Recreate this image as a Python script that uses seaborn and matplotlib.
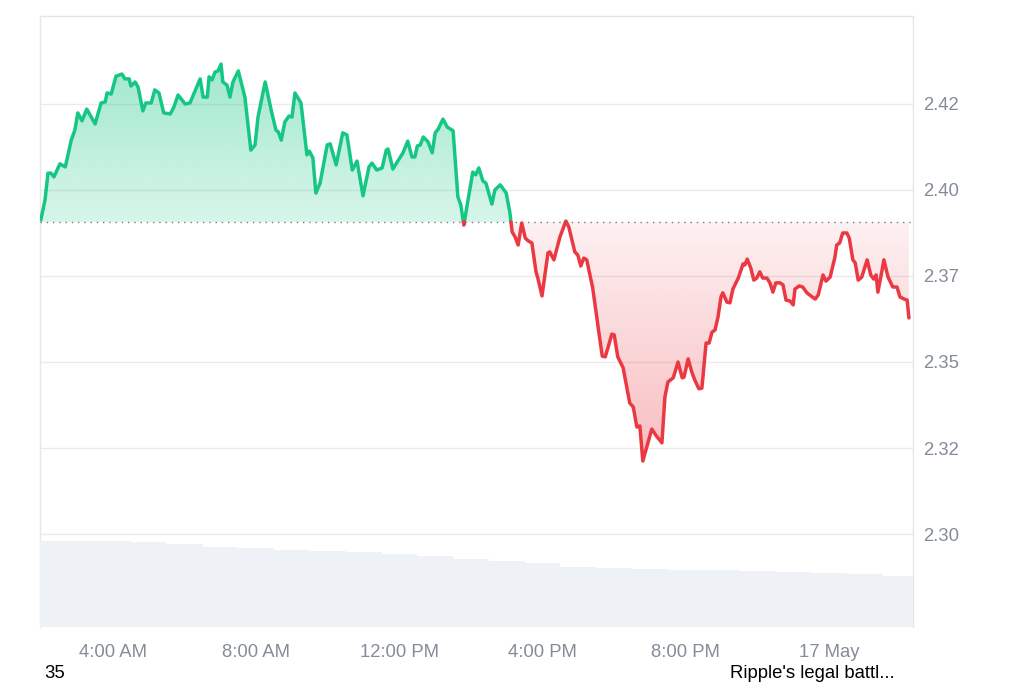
import numpy as np
import pandas as pd
import matplotlib
matplotlib.use("Agg")
import matplotlib.pyplot as plt
import matplotlib.dates as mdates
from matplotlib.path import Path
from matplotlib.colors import to_rgb
import seaborn as sns

# ---------------------------------------------------------------------------
# Data
# ---------------------------------------------------------------------------
TIMES = [
    "01:59", "02:06", "02:11", "02:16", "02:21", "02:31", "02:40", "02:50", "02:56", "03:01",
    "03:08", "03:16", "03:30", "03:40", "03:47", "03:50", "03:57", "04:05", "04:15", "04:20",
    "04:27", "04:30", "04:37", "04:42", "04:50", "04:55", "05:04", "05:10", "05:17", "05:25",
    "05:36", "05:42", "05:49", "06:01", "06:09", "06:26", "06:31", "06:38", "06:41", "06:46",
    "06:51", "06:56", "07:01", "07:04", "07:11", "07:16", "07:21", "07:30", "07:41", "07:51",
    "07:58", "08:03", "08:15", "08:25", "08:33", "08:37", "08:42", "08:48", "08:55", "09:00",
    "09:05", "09:15", "09:25", "09:29", "09:35", "09:40", "09:47", "09:59", "10:04", "10:14",
    "10:25", "10:32", "10:41", "10:49", "10:59", "11:09", "11:14", "11:22", "11:31", "11:38",
    "11:41", "11:49", "12:06", "12:14", "12:21", "12:26", "12:30", "12:35", "12:40", "12:48",
    "12:55", "13:00", "13:05", "13:13", "13:20", "13:23", "13:30", "13:38", "13:43", "13:48",
    "13:55", "14:03", "14:08", "14:13", "14:20", "14:25", "14:35", "14:40", "14:49", "14:59",
    "15:05", "15:09", "15:14", "15:19", "15:25", "15:31", "15:36", "15:42", "15:49", "15:52",
    "15:59", "16:09", "16:12", "16:19", "16:29", "16:39", "16:44", "16:54", "16:59", "17:04",
    "17:09", "17:14", "17:24", "17:31", "17:33", "17:40", "17:45", "17:50", "17:56", "18:00",
    "18:06", "18:15", "18:26", "18:32", "18:38", "18:43", "18:48", "19:03", "19:12", "19:20",
    "19:25", "19:30", "19:39", "19:47", "19:54", "19:57", "20:04", "20:10", "20:15", "20:22",
    "20:27", "20:34", "20:39", "20:44", "20:49", "20:54", "20:59", "21:02", "21:09", "21:14",
    "21:19", "21:28", "21:36", "21:39", "21:43", "21:49", "21:54", "21:59", "22:04", "22:09",
    "22:16", "22:21", "22:26", "22:31", "22:38", "22:43", "22:48", "22:55", "23:00", "23:03",
    "23:10", "23:16", "23:23", "23:32", "23:37", "23:42", "23:50", "23:55", "00:02", "00:10",
    "00:13", "00:18", "00:23", "00:30", "00:34", "00:40", "00:44", "00:49", "00:55", "01:04",
    "01:10", "01:15", "01:19", "01:22", "01:29", "01:32", "01:39", "01:47", "01:54", "01:59",
    "02:06", "02:11", "02:14",
]

PRICES = [
    2.3913, 2.3971, 2.4049, 2.4049, 2.4038, 2.4076, 2.4067, 2.4145, 2.4174, 2.4224,
    2.4201, 2.4235, 2.4192, 2.4253, 2.4256, 2.4282, 2.4279, 2.4331, 2.4337, 2.4323,
    2.4323, 2.4302, 2.4314, 2.4299, 2.4230, 2.4253, 2.4253, 2.4291, 2.4282, 2.4224,
    2.4221, 2.4241, 2.4276, 2.4250, 2.4253, 2.4323, 2.4270, 2.4270, 2.4329, 2.4320,
    2.4343, 2.4346, 2.4366, 2.4314, 2.4305, 2.4270, 2.4314, 2.4346, 2.4270, 2.4116,
    2.4131, 2.4212, 2.4314, 2.4233, 2.4174, 2.4169, 2.4145, 2.4198, 2.4215, 2.4212,
    2.4282, 2.4253, 2.4102, 2.4113, 2.4093, 2.3991, 2.4020, 2.4131, 2.4134, 2.4073,
    2.4166, 2.4160, 2.4058, 2.4084, 2.3983, 2.4067, 2.4078, 2.4058, 2.4064, 2.4116,
    2.4119, 2.4061, 2.4108, 2.4142, 2.4096, 2.4096, 2.4128, 2.4131, 2.4154, 2.4140,
    2.4108, 2.4166, 2.4177, 2.4206, 2.4183, 2.4180, 2.4172, 2.3980, 2.3956, 2.3898,
    2.3971, 2.4052, 2.4044, 2.4064, 2.4026, 2.4020, 2.3959, 2.4000, 2.4015, 2.3991,
    2.3936, 2.3878, 2.3863, 2.3840, 2.3904, 2.3860, 2.3852, 2.3846, 2.3762, 2.3744,
    2.3692, 2.3817, 2.3820, 2.3797, 2.3863, 2.3910, 2.3892, 2.3820, 2.3811, 2.3779,
    2.3802, 2.3797, 2.3715, 2.3628, 2.3602, 2.3517, 2.3515, 2.3544, 2.3581, 2.3579,
    2.3515, 2.3483, 2.3381, 2.3369, 2.3311, 2.3314, 2.3212, 2.3305, 2.3282, 2.3265,
    2.3398, 2.3442, 2.3454, 2.3500, 2.3454, 2.3456, 2.3509, 2.3471, 2.3448, 2.3422,
    2.3424, 2.3555, 2.3555, 2.3587, 2.3593, 2.3631, 2.3689, 2.3701, 2.3674, 2.3672,
    2.3712, 2.3744, 2.3785, 2.3782, 2.3799, 2.3773, 2.3738, 2.3744, 2.3762, 2.3744,
    2.3744, 2.3730, 2.3703, 2.3730, 2.3730, 2.3724, 2.3680, 2.3677, 2.3666, 2.3712,
    2.3721, 2.3718, 2.3701, 2.3689, 2.3683, 2.3695, 2.3753, 2.3735, 2.3747, 2.3805,
    2.3840, 2.3846, 2.3875, 2.3875, 2.3860, 2.3797, 2.3788, 2.3738, 2.3747, 2.3797,
    2.3753, 2.3741, 2.3753, 2.3703, 2.3767, 2.3797, 2.3747, 2.3718, 2.3718, 2.3689,
    2.3683, 2.3680, 2.3628,
]

BASE_PRICE = 2.3907  # opening price (dotted line)

# hourly volume, starting 16 May 02:00 (arbitrary units)
VOLUME = [86, 86, 85.5, 85, 83, 80, 79, 77, 76, 75, 73, 71, 68,
          66, 64, 60, 59, 58, 57, 57, 56, 55, 54, 53, 51]

Y_TICKS = [2.30, 2.325, 2.35, 2.375, 2.40, 2.425]
Y_LABELS = ["2.30", "2.32", "2.35", "2.37", "2.40", "2.42"]
X_TICKS = ["2025-05-16 04:00", "2025-05-16 08:00", "2025-05-16 12:00",
           "2025-05-16 16:00", "2025-05-16 20:00", "2025-05-17 00:00"]
X_LABELS = ["4:00 AM", "8:00 AM", "12:00 PM", "4:00 PM", "8:00 PM", "17 May"]

GREEN = "#16c784"
RED = "#ea3943"
GREY_TXT = "#858c99"
GRID = "#ebebeb"

# ---------------------------------------------------------------------------
# Helpers
# ---------------------------------------------------------------------------

def _build_times(times, day="2025-05-16"):
    start = pd.Timestamp(day)
    out, offset, prev = [], 0, None
    for t in times:
        hm = pd.Timedelta(hours=int(t[:2]), minutes=int(t[3:]))
        if prev is not None and hm < prev:
            offset += 1
        prev = hm
        out.append(start + pd.Timedelta(days=offset) + hm)
    return out


def _gradient_fill(ax, x, y, base, color, far_val, a_near, a_far, where):
    poly = ax.fill_between(x, y, base, where=where, interpolate=True,
                           facecolor="none", edgecolor="none")
    path = Path.make_compound_path(*poly.get_paths())
    n = 256
    rgba = np.zeros((n, 1, 4))
    rgba[..., :3] = to_rgb(color)
    if far_val > base:
        rgba[:, 0, 3] = np.linspace(a_near, a_far, n)
        lo, hi = base, far_val
    else:
        rgba[:, 0, 3] = np.linspace(a_far, a_near, n)
        lo, hi = far_val, base
    im = ax.imshow(rgba, extent=[x.min(), x.max(), lo, hi], origin="lower",
                   aspect="auto", zorder=1, interpolation="bilinear")
    im.set_clip_path(path, ax.transData)


# ---------------------------------------------------------------------------
# Chart
# ---------------------------------------------------------------------------
sns.set_theme(style="white")
plt.rcParams["font.family"] = ["Liberation Sans", "DejaVu Sans"]

ts = _build_times(TIMES)
x = mdates.date2num(ts)
p = np.array(PRICES)

# add crossing points so both colours meet on the base line
xs, ps = [], []
for i in range(len(x)):
    if i > 0 and (p[i - 1] - BASE_PRICE) * (p[i] - BASE_PRICE) < 0:
        f = (BASE_PRICE - p[i - 1]) / (p[i] - p[i - 1])
        xs.append(x[i - 1] + f * (x[i] - x[i - 1]))
        ps.append(BASE_PRICE)
    xs.append(x[i])
    ps.append(p[i])
xs = np.array(xs)
ps = np.array(ps)

rows, seg = [], 0
for side, mask in (("up", ps >= BASE_PRICE), ("down", ps <= BASE_PRICE)):
    prev_in = False
    for xi, pi, m in zip(xs, ps, mask):
        if m:
            if not prev_in:
                seg += 1
            rows.append((xi, pi, side, seg))
        prev_in = m
df = pd.DataFrame(rows, columns=["x", "price", "side", "seg"])

fig = plt.figure(figsize=(10.24, 6.83), dpi=100)
ax = fig.add_axes([0.0391, 0.0820, 0.8525, 0.8946])

_gradient_fill(ax, xs, ps, BASE_PRICE, GREEN, 2.440, 0.17, 0.42, ps >= BASE_PRICE)
_gradient_fill(ax, xs, ps, BASE_PRICE, RED, 2.320, 0.07, 0.34, ps <= BASE_PRICE)

sns.lineplot(data=df[df.side == "up"], x="x", y="price", units="seg",
             estimator=None, sort=False, color=GREEN, linewidth=2.5,
             solid_joinstyle="round", solid_capstyle="round", ax=ax, zorder=4)
sns.lineplot(data=df[df.side == "down"], x="x", y="price", units="seg",
             estimator=None, sort=False, color=RED, linewidth=2.5,
             solid_joinstyle="round", solid_capstyle="round", ax=ax, zorder=4)

ax.axhline(BASE_PRICE, color="#7a7a7a", linewidth=1.0,
           linestyle=(0, (1, 3.5)), zorder=3)

# volume on a hidden twin axis
ax2 = ax.twinx()
vol_x = mdates.date2num(pd.date_range("2025-05-16 02:00", periods=len(VOLUME), freq="h"))
ax2.bar(vol_x, VOLUME, width=1 / 24, color="#eef2f6", edgecolor="none", zorder=1)
ax2.set_ylim(0, 611)
ax2.set_yticks([])
for s in ax2.spines.values():
    s.set_visible(False)

x_left = mdates.date2num(pd.Timestamp("2025-05-16 01:57:40"))
x_right = mdates.date2num(pd.Timestamp("2025-05-17 02:20:50"))
ax.set_xlim(x_left, x_right)
ax.set_ylim(2.27297, 2.45058)

ax.yaxis.tick_right()
ax.set_yticks(Y_TICKS)
ax.set_yticklabels(Y_LABELS)
ax.set_xticks(mdates.date2num(pd.to_datetime(X_TICKS)))
ax.set_xticklabels(X_LABELS)
ax.tick_params(axis="both", length=0, labelsize=13.3, labelcolor=GREY_TXT)
ax.tick_params(axis="y", pad=7)
ax.tick_params(axis="x", pad=12)
ax.set_xlabel("")
ax.set_ylabel("")

ax.grid(axis="y", color=GRID, linewidth=1)
ax.grid(axis="x", visible=False)
ax.set_axisbelow(True)
for name in ("top", "left", "right"):
    ax.spines[name].set_color("#e6e6e6")
    ax.spines[name].set_linewidth(1)
ax.spines["bottom"].set_visible(False)

fig.text(44 / 1024, 9 / 683, "35", fontsize=13.3, color="black", va="center")
fig.text(730 / 1024, 9 / 683, "Ripple's legal battl...", fontsize=13.3,
         color="black", va="center")

fig.savefig("out.png", dpi=100)
